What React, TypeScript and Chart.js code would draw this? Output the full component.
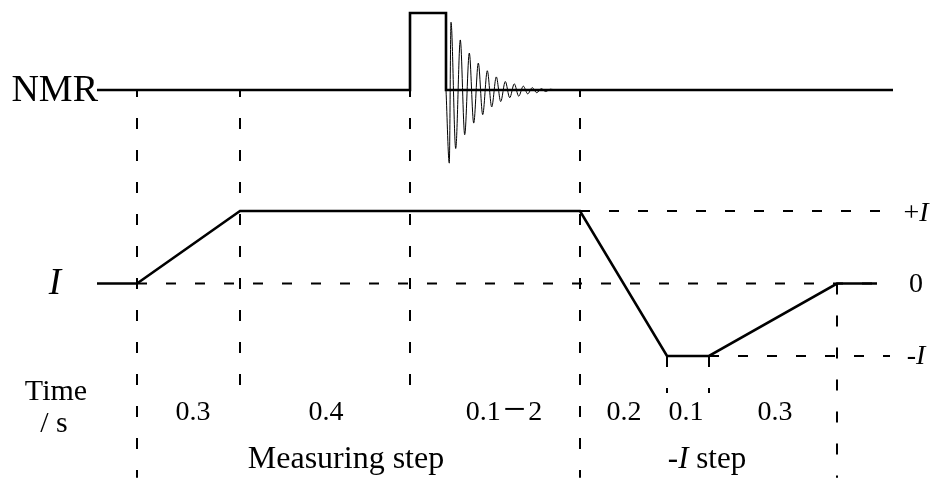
import { useEffect, useRef } from 'react';
import { Chart, registerables } from 'chart.js';

Chart.register(...registerables);

const SERIF = '"Liberation Serif", "Times New Roman", serif';

// ---- data (schematic x = diagram units along the time sequence) ----
// NMR channel: baseline 0, RF pulse 1
const nmrX = [97, 410, 410, 446, 446, 893];
const nmrLevel = [0, 0, 1, 1, 0, 0];

// free induction decay: extrema (NMR units)
const fidX = [446, 449.3, 451, 455.7, 460.3, 464.7, 469.3, 473.7, 478.3, 482.7, 487.3, 491.7, 496.3, 500.7, 505.3, 509.7, 514.3, 518.7, 523.3, 527.7, 532.3, 536.7, 541.3, 545.7, 550.3, 556];
const fidAmp = [0, -0.95, 0.88, -0.76, 0.65, -0.58, 0.48, -0.43, 0.35, -0.32, 0.25, -0.22, 0.17, -0.15, 0.11, -0.1, 0.08, -0.08, 0.05, -0.05, 0.03, -0.035, 0.017, -0.02, 0.01, 0];

// current channel: +I = 1, 0, -I = -1
const currentX = [97, 137, 240, 580, 667, 709, 837, 877];
const currentLevel = [0, 0, 1, 1, -1, -1, 0, 0];

// reference levels
const refLevels = [1, 0, -1];
const refStartX = [580, 137, 709];
const refEndX = 890;
const refLabels = ['+I', '0', '-I'];

// step boundaries (vertical dashed markers), extents in current units
const markerX = [137, 240, 410, 580, 667, 709, 837];
const markerTop = [2.669, 2.669, 2.669, 2.669, -1, -1, 0];
const markerBottom = [-2.68, -1.51, -1.51, -2.68, -1.51, -1.51, -2.68];

// duration labels (s)
const durationLabels = ['0.3', '0.4', '0.1\u22122', '0.2', '0.1', '0.3'];
const stepNames = ['Measuring step', '-I step'];

// ---- layout constants ----
const X_MIN = 0, X_MAX = 937;
const YI_MAX = 3.9103, YI_MIN = -2.6828;
const YN_MAX = 1.1688, YN_MIN = -5.039;
const durationCenters = [193, 326, 504, 624, 686, 775];
const durationBaseline = -1.883;
const stepCenters = [346, 707];
const stepSizes = [32, 31];
const stepBaseline = -2.545;

type Part = { t: string; italic?: boolean; size?: number; dy?: number; pad?: number };

function drawRich(ctx: CanvasRenderingContext2D, parts: Part[], x: number, y: number, size: number, align: 'left' | 'center' | 'right', baseline: CanvasTextBaseline) {
  const fontFor = (p: Part) => `${p.italic ? 'italic ' : ''}${p.size ?? size}px ${SERIF}`;
  let total = 0;
  const widths = parts.map((p) => {
    ctx.font = fontFor(p);
    const w = ctx.measureText(p.t).width + 2 * (p.pad ?? 0);
    total += w;
    return w;
  });
  let cx = align === 'left' ? x : align === 'center' ? x - total / 2 : x - total;
  ctx.textBaseline = baseline;
  ctx.textAlign = 'left';
  parts.forEach((p, i) => {
    ctx.font = fontFor(p);
    ctx.fillText(p.t, cx + (p.pad ?? 0), y + (p.dy ?? 0));
    cx += widths[i];
  });
}

function parseLabel(s: string): Part[] {
  // italicise the letter I; render the range dash larger and spaced
  const out: Part[] = [];
  for (const ch of s.split(/(I|\u2212)/)) {
    if (!ch) continue;
    if (ch === '\u2212') out.push({ t: ch, size: 40, dy: 2, pad: 2.5 });
    else out.push({ t: ch, italic: ch === 'I' });
  }
  return out;
}

const textPlugin = {
  id: 'diagramText',
  afterDraw(chart: any) {
    const ctx: CanvasRenderingContext2D = chart.ctx;
    const xs = chart.scales.x;
    const yI = chart.scales.yI;
    const yN = chart.scales.yN;
    const px = (v: number) => xs.getPixelForValue(v);
    ctx.save();
    ctx.fillStyle = '#000';

    // channel names
    drawRich(ctx, [{ t: 'NMR' }], px(nmrX[0]) + 1, yN.getPixelForValue(0) + 1, 38, 'right', 'middle');
    drawRich(ctx, [{ t: 'I', italic: true }], 55, yI.getPixelForValue(0) + 1, 37, 'center', 'middle');

    // reference level labels
    refLabels.forEach((lab, i) => {
      drawRich(ctx, parseLabel(lab), 916, yI.getPixelForValue(refLevels[i]) + (i === 0 ? 3 : 1), 28, 'center', 'middle');
    });

    // time axis caption
    drawRich(ctx, [{ t: 'Time' }], 56, yI.getPixelForValue(-1.607), 30, 'center', 'alphabetic');
    drawRich(ctx, [{ t: '/ s' }], 54, yI.getPixelForValue(-2.048), 30, 'center', 'alphabetic');

    // durations
    durationLabels.forEach((lab, i) => {
      drawRich(ctx, parseLabel(lab), px(durationCenters[i]), yI.getPixelForValue(durationBaseline), 28, 'center', 'alphabetic');
    });

    // step names
    stepNames.forEach((lab, i) => {
      drawRich(ctx, parseLabel(lab), px(stepCenters[i]), yI.getPixelForValue(stepBaseline), stepSizes[i], 'center', 'alphabetic');
    });
    ctx.restore();
  },
};

export default function App() {
  const ref = useRef<HTMLCanvasElement | null>(null);

  useEffect(() => {
    if (!ref.current) return;
    const line = (xs: number[], ys: number[]) => xs.map((x, i) => ({ x, y: ys[i] }));

    const datasets: any[] = [];

    // reference dashed horizontals
    refLevels.forEach((lv, i) => {
      datasets.push({
        data: [{ x: refStartX[i], y: lv }, { x: refEndX, y: lv }],
        yAxisID: 'yI',
        borderColor: '#000',
        borderWidth: 2,
        borderDash: [10, 19],
        borderDashOffset: 0,
        pointRadius: 0,
        showLine: true,
      });
    });

    // vertical dashed step markers
    markerX.forEach((mx, i) => {
      datasets.push({
        data: [{ x: mx, y: markerTop[i] }, { x: mx, y: markerBottom[i] }],
        yAxisID: 'yI',
        borderColor: '#000',
        borderWidth: 2,
        borderDash: [11, 21],
        borderDashOffset: markerTop[i] > 2 ? 4 : 0,
        pointRadius: 0,
        showLine: true,
      });
    });

    // FID
    datasets.push({
      data: line(fidX, fidAmp),
      yAxisID: 'yN',
      borderColor: '#000',
      borderWidth: 1,
      cubicInterpolationMode: 'monotone',
      pointRadius: 0,
      showLine: true,
    });

    // NMR sequence
    datasets.push({
      data: line(nmrX, nmrLevel),
      yAxisID: 'yN',
      borderColor: '#000',
      borderWidth: 2.6,
      pointRadius: 0,
      showLine: true,
      borderJoinStyle: 'miter',
    });

    // current sequence
    datasets.push({
      data: line(currentX, currentLevel),
      yAxisID: 'yI',
      borderColor: '#000',
      borderWidth: 2.6,
      pointRadius: 0,
      showLine: true,
      borderJoinStyle: 'miter',
    });

    datasets.forEach((d) => { d.clip = false; d.fill = false; });

    const chart = new Chart(ref.current, {
      type: 'scatter',
      data: { datasets },
      options: {
        animation: false,
        responsive: true,
        maintainAspectRatio: false,
        layout: { padding: 0 },
        events: [],
        plugins: { legend: { display: false }, tooltip: { enabled: false }, title: { display: false } },
        scales: {
          x: { type: 'linear', min: X_MIN, max: X_MAX, display: false },
          yI: { type: 'linear', position: 'left', min: YI_MIN, max: YI_MAX, display: false },
          yN: { type: 'linear', position: 'right', min: YN_MIN, max: YN_MAX, display: false },
        },
      } as any,
      plugins: [textPlugin],
    });
    return () => chart.destroy();
  }, []);

  return (
    <div style={{ position: 'fixed', left: 0, top: 0, width: 937, height: 478, background: '#fff' }}>
      <canvas ref={ref} />
    </div>
  );
}
